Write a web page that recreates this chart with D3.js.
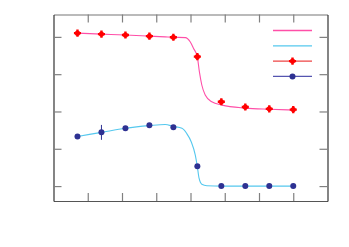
<!DOCTYPE html>
<html>
<head>
<meta charset="utf-8">
<script src="https://cdn.jsdelivr.net/npm/d3@7"></script>
<style>
  body { margin: 0; background: #fff; }
  svg { display: block; }
</style>
</head>
<body>
<div id="chart"></div>
<script>
// measured points
var xVals = [0.7, 1.4, 2.1, 2.8, 3.5, 4.2, 4.9, 5.6, 6.3, 7.0];
var redVals = [4.10, 4.075, 4.05, 4.02, 3.99, 3.47, 2.26, 2.12, 2.07, 2.05];
var redErr = [0.06, 0.06, 0.05, 0.05, 0.05, 0.06, 0.06, 0.05, 0.05, 0.05];
var blueVals = [1.33, 1.44, 1.55, 1.63, 1.58, 0.53, 0.0, 0.0, 0.0, 0.0];
var blueErr = [0.03, 0.2, 0.04, 0.03, 0.03, 0.03, 0.02, 0.02, 0.02, 0.02];

// fitted curves
var redFitX = [0.7, 1.4, 2.1, 2.8, 3.26, 3.5, 3.85, 3.99, 4.09, 4.20, 4.26, 4.33, 4.43, 4.62, 4.92, 5.6, 6.3, 7.0];
var redFitY = [4.10, 4.075, 4.05, 4.02, 4.00, 3.99, 3.98, 3.87, 3.69, 3.46, 3.06, 2.71, 2.44, 2.26, 2.17, 2.09, 2.06, 2.04];
var blueFitX = [0.7, 1.4, 2.1, 2.8, 3.26, 3.5, 3.75, 3.89, 4.02, 4.14, 4.20, 4.25, 4.33, 4.48, 4.92, 5.6, 6.3, 7.0];
var blueFitY = [1.33, 1.44, 1.55, 1.62, 1.65, 1.60, 1.55, 1.41, 1.19, 0.83, 0.52, 0.21, 0.05, 0.01, 0.0, 0.0, 0.0, 0.0];

var xTicks = [1, 2, 3, 4, 5, 6, 7];
var yTicks = [0, 1, 2, 3, 4];

var pink = "#ff4fa8", cyan = "#55c8ee", red = "#ff0000", navy = "#2e3192";

var W = 349, H = 247;
var svg = d3.select("#chart").append("svg")
    .attr("width", W).attr("height", H);

var x = d3.scaleLinear().domain([0, 8]).range([53.5, 327.5]);
var y = d3.scaleLinear().domain([-0.4, 4.6]).range([201, 14.5]);

// axes, ticks pointing inward, no labels
function styleAxis(g, col) {
    g.selectAll("text").remove();
    g.select(".domain").attr("stroke", col).attr("stroke-width", 1.2);
    g.selectAll(".tick line").attr("stroke", "#808080").attr("stroke-width", 1.2);
}
svg.append("g").attr("transform", "translate(0," + y.range()[0] + ")")
    .call(d3.axisBottom(x).tickValues(xTicks).tickSizeInner(-8).tickSizeOuter(0).tickFormat(""))
    .call(styleAxis, "#555");
svg.append("g").attr("transform", "translate(0," + y.range()[1] + ")")
    .call(d3.axisTop(x).tickValues(xTicks).tickSizeInner(-8).tickSizeOuter(0).tickFormat(""))
    .call(styleAxis, "#777");
svg.append("g").attr("transform", "translate(" + x.range()[0] + ",0)")
    .call(d3.axisLeft(y).tickValues(yTicks).tickSizeInner(-8).tickSizeOuter(0).tickFormat(""))
    .call(styleAxis, "#333");
svg.append("g").attr("transform", "translate(" + x.range()[1] + ",0)")
    .call(d3.axisRight(y).tickValues(yTicks).tickSizeInner(-8).tickSizeOuter(0).tickFormat(""))
    .call(styleAxis, "#333");

var line = d3.line()
    .x(function (d) { return x(d[0]); })
    .y(function (d) { return y(d[1]); })
    .curve(d3.curveMonotoneX);

svg.append("path")
    .attr("d", line(d3.zip(redFitX, redFitY)))
    .attr("fill", "none").attr("stroke", pink).attr("stroke-width", 1.1);
svg.append("path")
    .attr("d", line(d3.zip(blueFitX, blueFitY)))
    .attr("fill", "none").attr("stroke", cyan).attr("stroke-width", 1.1);

// error bars
function errBars(vals, errs, col) {
    svg.append("g").selectAll("line")
        .data(d3.range(vals.length))
        .enter().append("line")
        .attr("x1", function (i) { return x(xVals[i]); })
        .attr("x2", function (i) { return x(xVals[i]); })
        .attr("y1", function (i) { return y(vals[i] + errs[i]); })
        .attr("y2", function (i) { return y(vals[i] - errs[i]); })
        .attr("stroke", col).attr("stroke-width", 1);
}
errBars(redVals, redErr, red);
errBars(blueVals, blueErr, navy);

var cross = d3.symbol().type(d3.symbolCross).size(28);
function redMarker(g) {
    g.append("circle").attr("r", 2.6).attr("fill", red);
    g.append("path").attr("d", cross()).attr("fill", red);
}
function blueMarker(g) {
    g.append("circle").attr("r", 3).attr("fill", navy);
}

svg.append("g").selectAll("g")
    .data(d3.zip(xVals, redVals))
    .enter().append("g")
    .attr("transform", function (d) { return "translate(" + x(d[0]) + "," + y(d[1]) + ")"; })
    .each(function () { redMarker(d3.select(this)); });

svg.append("g").selectAll("g")
    .data(d3.zip(xVals, blueVals))
    .enter().append("g")
    .attr("transform", function (d) { return "translate(" + x(d[0]) + "," + y(d[1]) + ")"; })
    .each(function () { blueMarker(d3.select(this)); });

// legend (no text)
var legend = [
    { col: pink, marker: null },
    { col: cyan, marker: null },
    { col: "#ee4444", marker: redMarker },
    { col: "#5555b0", marker: blueMarker }
];
var lg = svg.append("g").attr("transform", "translate(273,30.5)");
legend.forEach(function (d, i) {
    var row = lg.append("g").attr("transform", "translate(0," + (i * 15.3) + ")");
    row.append("line").attr("x1", 0).attr("x2", 39)
        .attr("stroke", d.col).attr("stroke-width", 1.3);
    if (d.marker) {
        d.marker(row.append("g").attr("transform", "translate(19.5,0)"));
    }
});
</script>
</body>
</html>
